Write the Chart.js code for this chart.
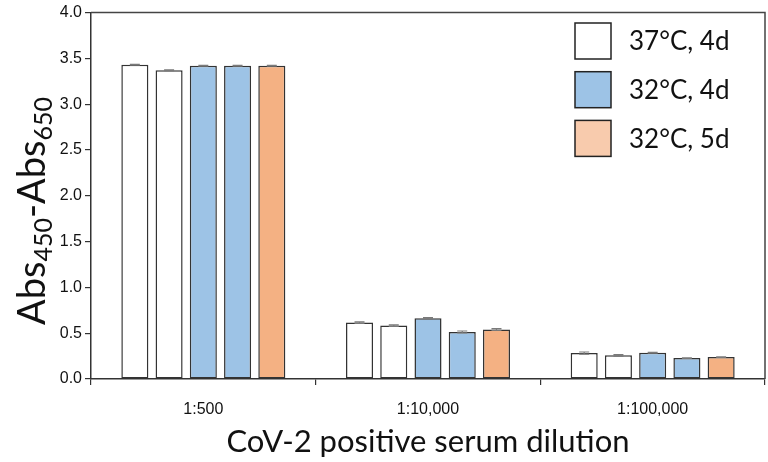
<!DOCTYPE html>
<html>
<head>
<meta charset="utf-8">
<script src="https://cdn.jsdelivr.net/npm/chart.js@4"></script>
<style>
html,body{margin:0;padding:0;background:#fff;}
#wrap{width:768px;height:462px;}
</style>
</head>
<body>
<div id="wrap"><canvas id="c" width="768" height="462"></canvas></div>
<script>
// ---- data ----
const categories = ['1:500', '1:10,000', '1:100,000'];
const seriesLabels = ['37°C, 4d (1)', '37°C, 4d (2)', '32°C, 4d (1)', '32°C, 4d (2)', '32°C, 5d'];
const s37a = [3.43, 0.616, 0.283];
const s37b = [3.37, 0.583, 0.258];
const s32a = [3.42, 0.663, 0.286];
const s32b = [3.42, 0.514, 0.228];
const s32d5 = [3.42, 0.540, 0.239];
const e37a = [0.004, 0.008, 0.012];
const e37b = [0.004, 0.008, 0.008];
const e32a = [0.004, 0.008, 0.005];
const e32b = [0.004, 0.010, 0.004];
const e32d5 = [0.004, 0.010, 0.004];
const yTicks = [0, 0.5, 1.0, 1.5, 2.0, 2.5, 3.0, 3.5, 4.0];
const legendLabels = ['37°C, 4d', '32°C, 4d', '32°C, 5d'];

const WHITE = '#ffffff', BLUE = '#9DC3E6', ORANGE = '#F4B183', PEACH = '#F8CBAD';
const legendColors = [WHITE, BLUE, PEACH];
const EDGE = '#333333';

const valueSets = [s37a, s37b, s32a, s32b, s32d5];
const errSets = [e37a, e37b, e32a, e32b, e32d5];
const fills = [WHITE, WHITE, BLUE, BLUE, ORANGE];

const datasets = valueSets.map((v, i) => ({
  label: seriesLabels[i],
  data: v,
  errors: errSets[i],
  backgroundColor: fills[i],
  borderColor: EDGE,
  borderWidth: 1.5,
  borderSkipped: false,
  categoryPercentage: 0.762,
  barPercentage: 0.79
}));

const errorBars = {
  id: 'errorBars',
  afterDatasetsDraw(chart) {
    const ctx = chart.ctx, y = chart.scales.y;
    ctx.save();
    ctx.strokeStyle = '#7a7a7a';
    ctx.lineWidth = 1.2;
    chart.data.datasets.forEach((ds, di) => {
      const meta = chart.getDatasetMeta(di);
      meta.data.forEach((bar, i) => {
        const v = ds.data[i], e = ds.errors[i];
        const yt = y.getPixelForValue(v + e), yb = y.getPixelForValue(v - e);
        const x = bar.x, w = 5;
        ctx.beginPath();
        ctx.moveTo(x, yt); ctx.lineTo(x, yb);
        ctx.moveTo(x - w, yt); ctx.lineTo(x + w, yt);
        ctx.moveTo(x - w, yb); ctx.lineTo(x + w, yb);
        ctx.stroke();
      });
    });
    ctx.restore();
  }
};

const frameAndText = {
  id: 'frameAndText',
  afterDraw(chart) {
    const ctx = chart.ctx, a = chart.chartArea;
    ctx.save();
    // frame top & right
    ctx.strokeStyle = '#444';
    ctx.lineWidth = 1.5;
    ctx.beginPath();
    ctx.moveTo(a.left, a.top); ctx.lineTo(a.right, a.top); ctx.lineTo(a.right, a.bottom);
    ctx.stroke();
    // legend
    const bx = 575, by0 = 23, pitch = 48.7, bs = 36;
    ctx.font = '26px Lato, "Open Sans", sans-serif';
    ctx.textBaseline = 'middle';
    ctx.textAlign = 'left';
    legendLabels.forEach((t, i) => {
      const by = by0 + i * pitch;
      ctx.fillStyle = legendColors[i];
      ctx.fillRect(bx, by, bs, bs);
      ctx.strokeStyle = '#222';
      ctx.lineWidth = 1.5;
      ctx.strokeRect(bx, by, bs, bs);
      ctx.fillStyle = '#111';
      ctx.fillText(t, 629, by + bs / 2 + 1);
    });
    // y title with subscripts
    ctx.translate(0, 211);
    ctx.rotate(-Math.PI / 2);
    const big = '38px Lato, "Open Sans", sans-serif';
    const small = '25px Lato, "Open Sans", sans-serif';
    const parts = [['Abs', big, 45], ['450', small, 52], ['-Abs', big, 45], ['650', small, 52]];
    let total = 0;
    parts.forEach(p => { ctx.font = p[1]; total += ctx.measureText(p[0]).width; });
    let x = -total / 2;
    ctx.textBaseline = 'alphabetic';
    ctx.textAlign = 'left';
    ctx.fillStyle = '#111';
    parts.forEach(p => {
      ctx.font = p[1];
      ctx.fillText(p[0], x, p[2]);
      x += ctx.measureText(p[0]).width;
    });
    ctx.restore();
  }
};

new Chart(document.getElementById('c'), {
  type: 'bar',
  data: { labels: categories, datasets },
  options: {
    responsive: false,
    animation: false,
    devicePixelRatio: 1,
    layout: { padding: { top: 11, right: 3, left: 0, bottom: 0 } },
    plugins: { legend: { display: false }, tooltip: { enabled: false } },
    scales: {
      x: {
        grid: { display: true, drawOnChartArea: false, drawTicks: true, tickLength: 6, color: '#333', lineWidth: 1.2, offset: true },
        border: { display: true, color: '#333', width: 1.5 },
        ticks: { color: '#111', padding: 15, font: { family: '"Liberation Sans", Arial, sans-serif', size: 16 } },
        title: { display: true, text: 'CoV-2 positive serum dilution', color: '#111',
                 font: { family: 'Lato, "Open Sans", sans-serif', size: 31 }, padding: { top: 0, bottom: 1 } },
        afterFit(s) { s.height = 83; }
      },
      y: {
        min: 0, max: 4,
        afterBuildTicks(s) { s.ticks = yTicks.map(v => ({ value: v })); },
        grid: { display: true, drawOnChartArea: false, drawTicks: true, tickLength: 6, color: '#333', lineWidth: 1.2 },
        border: { display: true, color: '#333', width: 1.5 },
        ticks: { color: '#111', padding: 3, font: { family: '"Liberation Sans", Arial, sans-serif', size: 16 },
                 callback: v => Number(v).toFixed(1) },
        afterFit(s) { s.width = 91; }
      }
    }
  },
  plugins: [errorBars, frameAndText]
});
</script>
</body>
</html>
